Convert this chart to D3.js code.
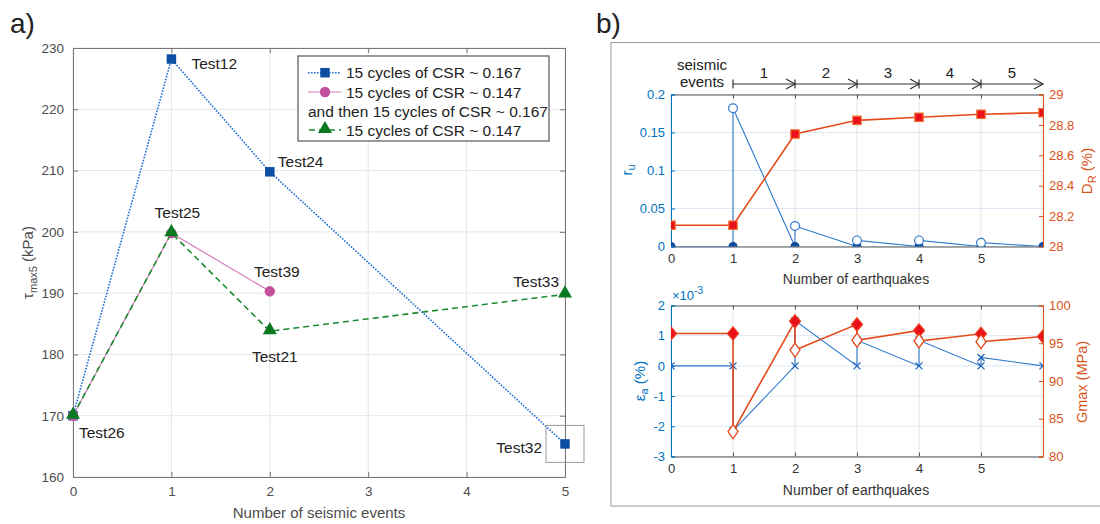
<!DOCTYPE html>
<html>
<head>
<meta charset="utf-8">
<script src="https://cdn.jsdelivr.net/npm/d3@7"></script>
<style>
  body { margin: 0; background: #fff; }
  svg { font-family: "Liberation Sans", Arial, sans-serif; }
</style>
</head>
<body>
<div id="chart"></div>
<script>
/* ---------- data: panel a ---------- */
var eventsA = [0, 1, 2, 5];
var tau167 = [170, 228.2, 209.8, 165.4];
var eventsB = [0, 1, 2];
var tau147then167 = [170, 199.8, 190.3];
var eventsC = [0, 1, 2, 5];
var tau147 = [170, 199.8, 183.8, 189.8];
var xTicksA = [0, 1, 2, 3, 4, 5];
var yTicksA = [160, 170, 180, 190, 200, 210, 220, 230];
var legendA = ["15 cycles of CSR ~ 0.167", "15 cycles of CSR ~ 0.147",
               "and then 15 cycles of CSR ~ 0.167", "15 cycles of CSR ~ 0.147"];
// test names with the point they sit on
var testNames = ["Test12", "Test24", "Test25", "Test39", "Test21", "Test26", "Test33", "Test32"];
var testEvent = [1, 2, 1, 2, 2, 0, 5, 5];
var testTau   = [228.2, 209.8, 199.8, 190.3, 183.8, 170, 189.8, 165.4];

/* ---------- data: panel b ---------- */
var quakeX = [0, 1, 1, 2, 2, 3, 3, 4, 4, 5, 5, 6];
var ru     = [0, 0, 0.182, 0, 0.027, 0, 0.008, 0, 0.008, 0, 0.005, 0];
var ruPeak = [false, false, true, false, true, false, true, false, true, false, true, false];
var drX = [0, 1, 2, 3, 4, 5, 6];
var dr  = [28.14, 28.14, 28.74, 28.83, 28.85, 28.87, 28.88];
var ea   = [0, 0, -2.15e-3, 0, 1.5e-3, 0, 0.85e-3, 0, 0.85e-3, 0, 0.28e-3, 0];
var gmax = [96.3, 96.3, 83.3, 97.9, 94.1, 97.5, 95.4, 96.7, 95.3, 96.25, 95.2, 95.9];
var gmaxAfter = [false, false, true, false, true, false, true, false, true, false, true, false];
var seismicEvents = [1, 2, 3, 4, 5];
var xTicksB = [0, 1, 2, 3, 4, 5, 6];
var xTickLabelsB = ["0", "1", "2", "3", "4", "5", ""];
var ruTicks = [0, 0.05, 0.1, 0.15, 0.2];
var drTicks = [28, 28.2, 28.4, 28.6, 28.8, 29];
var eaTicks = [-3e-3, -2e-3, -1e-3, 0, 1e-3, 2e-3];
var gmaxTicks = [80, 85, 90, 95, 100];

var svg = d3.select("#chart").append("svg")
  .attr("width", 1100).attr("height", 524);

var BLUE = "#0072bd", ORANGE = "#d95319";

/* ========== panel a ========== */
var A = { l: 73, r: 565, t: 48, b: 477 };
var xa = d3.scaleLinear().domain([0, 5]).range([A.l, A.r]);
var ya = d3.scaleLinear().domain([160, 230]).range([A.b, A.t]);

svg.append("text").attr("x", 10).attr("y", 33).attr("font-size", 28).attr("fill", "#222").text("a)");

var ga = svg.append("g");
// grid
ga.selectAll(".gx").data(xTicksA).enter().append("line")
  .attr("x1", d => xa(d)).attr("x2", d => xa(d)).attr("y1", A.t).attr("y2", A.b)
  .attr("stroke", "#e6e6e6");
ga.selectAll(".gy").data(yTicksA).enter().append("line")
  .attr("x1", A.l).attr("x2", A.r).attr("y1", d => ya(d)).attr("y2", d => ya(d))
  .attr("stroke", "#e6e6e6");

// axes (MATLAB style: ticks inside, box on)
var axA = ga.append("g").attr("color", "#777");
axA.append("g").attr("transform", `translate(0,${A.b})`)
  .call(d3.axisBottom(xa).tickValues(xTicksA).tickSize(-5).tickPadding(9).tickFormat(d3.format("d")));
axA.append("g").attr("transform", `translate(0,${A.t})`)
  .call(d3.axisTop(xa).tickValues(xTicksA).tickSize(-5).tickFormat(""));
axA.append("g").attr("transform", `translate(${A.l},0)`)
  .call(d3.axisLeft(ya).tickValues(yTicksA).tickSize(-5).tickPadding(9));
axA.append("g").attr("transform", `translate(${A.r},0)`)
  .call(d3.axisRight(ya).tickValues(yTicksA).tickSize(-5).tickFormat(""));
axA.selectAll(".domain").attr("stroke", "#777");
axA.selectAll("text").attr("font-size", 13.5).attr("fill", "#4d4d4d")
  .attr("font-family", "Liberation Sans, Arial, sans-serif");

ga.append("text").attr("x", (A.l + A.r) / 2).attr("y", 518).attr("text-anchor", "middle")
  .attr("font-size", 15).attr("fill", "#4d4d4d").text("Number of seismic events");
var yl = ga.append("text").attr("transform", `translate(33,${(A.t + A.b) / 2}) rotate(-90)`)
  .attr("text-anchor", "middle").attr("font-size", 15).attr("fill", "#4d4d4d");
yl.append("tspan").text("τ");
yl.append("tspan").attr("font-size", 11).attr("dy", 4).text("max5");
yl.append("tspan").attr("dy", -4).text(" (kPa)");

function seriesA(xs, ys) { return xs.map((x, i) => [x, ys[i]]); }
var lineA = d3.line().x(d => xa(d[0])).y(d => ya(d[1]));

var s1 = seriesA(eventsA, tau167), s2 = seriesA(eventsB, tau147then167), s3 = seriesA(eventsC, tau147);
var C1 = "#1f6fd6", C1m = "#0b4ea2", C2 = "#d47ab8", C2m = "#c2509c", C3 = "#1b8a2e", C3m = "#0a7a22";

ga.append("path").attr("d", lineA(s1)).attr("fill", "none").attr("stroke", C1)
  .attr("stroke-width", 1.6).attr("stroke-dasharray", "1.6,1.4");
ga.append("path").attr("d", lineA(s2)).attr("fill", "none").attr("stroke", C2).attr("stroke-width", 1.2);
ga.append("path").attr("d", lineA(s3)).attr("fill", "none").attr("stroke", C3)
  .attr("stroke-width", 1.6).attr("stroke-dasharray", "6,4");

var sq = d3.symbol().type(d3.symbolSquare).size(90);
var ci = d3.symbol().type(d3.symbolCircle).size(85);
var tri = d3.symbol().type(d3.symbolTriangle).size(85);

ga.selectAll(".m1").data(s1).enter().append("path").attr("d", sq)
  .attr("transform", d => `translate(${xa(d[0])},${ya(d[1])})`).attr("fill", C1m);
ga.selectAll(".m2").data(s2).enter().append("path").attr("d", ci)
  .attr("transform", d => `translate(${xa(d[0])},${ya(d[1])})`).attr("fill", C2m);
ga.selectAll(".m3").data(s3).enter().append("path").attr("d", tri)
  .attr("transform", d => `translate(${xa(d[0])},${ya(d[1]) - 1})`).attr("fill", C3m);

// test labels (offsets from their points)
var labOff = {
  Test12: [20, 10, "start"], Test24: [8, -5, "start"], Test25: [6, -15, "middle"],
  Test39: [7, -14, "middle"], Test21: [5, 31, "middle"], Test26: [6, 22, "start"],
  Test33: [-6, -7, "end"], Test32: [-23, 9, "end"]
};
testNames.forEach(function(n, i) {
  var o = labOff[n];
  ga.append("text").attr("x", xa(testEvent[i]) + o[0]).attr("y", ya(testTau[i]) + o[1])
    .attr("text-anchor", o[2]).attr("font-size", 15.5).attr("fill", "#222").text(n);
});
// small highlight box round Test32
ga.append("rect").attr("x", xa(5) - 19).attr("y", ya(165.4) - 18.5).attr("width", 38).attr("height", 37)
  .attr("fill", "none").attr("stroke", "#999").attr("stroke-width", 1);

// legend
var lg = ga.append("g");
lg.append("rect").attr("x", 298).attr("y", 56).attr("width", 251).attr("height", 85)
  .attr("fill", "#fff").attr("stroke", "#555").attr("stroke-width", 1.2);
var rows = [72.7, 92, 111, 130];
lg.append("line").attr("x1", 308).attr("x2", 341).attr("y1", rows[0]).attr("y2", rows[0])
  .attr("stroke", C1).attr("stroke-width", 1.6).attr("stroke-dasharray", "1.6,1.4");
lg.append("path").attr("d", sq).attr("transform", `translate(325,${rows[0]})`).attr("fill", C1m);
lg.append("line").attr("x1", 308).attr("x2", 341).attr("y1", rows[1]).attr("y2", rows[1])
  .attr("stroke", C2).attr("stroke-width", 1.2);
lg.append("path").attr("d", ci).attr("transform", `translate(325,${rows[1]})`).attr("fill", C2m);
lg.append("line").attr("x1", 308).attr("x2", 341).attr("y1", rows[3]).attr("y2", rows[3])
  .attr("stroke", C3).attr("stroke-width", 1.6).attr("stroke-dasharray", "6,4").attr("stroke-dashoffset", -1);
lg.append("path").attr("d", tri).attr("transform", `translate(325,${rows[3] - 1})`).attr("fill", C3m);
[[346, 0], [346, 1], [308, 2], [346, 3]].forEach(function(p) {
  lg.append("text").attr("x", p[0]).attr("y", rows[p[1]] + 5.5).attr("font-size", 15.5)
    .attr("fill", "#222").text(legendA[p[1]]);
});

/* ========== panel b ========== */
svg.append("text").attr("x", 596).attr("y", 33).attr("font-size", 28).attr("fill", "#222").text("b)");
svg.append("rect").attr("x", 611).attr("y", 42.5).attr("width", 500).attr("height", 463.5)
  .attr("fill", "none").attr("stroke", "#999");

var xb = d3.scaleLinear().domain([0, 6]).range([671, 1043]);

function panelB(box, yL, yR, lTicks, rTicks, lFmt, rFmt, id) {
  var g = svg.append("g");
  g.append("clipPath").attr("id", id).append("rect")
    .attr("x", box.l).attr("y", box.t).attr("width", box.r - box.l).attr("height", box.b - box.t);
  g.selectAll(".gx").data(xTicksB).enter().append("line")
    .attr("x1", d => xb(d)).attr("x2", d => xb(d)).attr("y1", box.t).attr("y2", box.b)
    .attr("stroke", "#e4e4e4");
  g.selectAll(".gy").data(lTicks).enter().append("line")
    .attr("x1", box.l).attr("x2", box.r).attr("y1", d => yL(d)).attr("y2", d => yL(d))
    .attr("stroke", "#dce8f6");
  var ax = g.append("g");
  var bx = ax.append("g").attr("transform", `translate(0,${box.b})`).attr("color", "#555")
    .call(d3.axisBottom(xb).tickValues(xTicksB).tickSize(-4).tickPadding(7).tickFormat((d, i) => xTickLabelsB[i]));
  ax.append("g").attr("transform", `translate(0,${box.t})`).attr("color", "#555")
    .call(d3.axisTop(xb).tickValues(xTicksB).tickSize(-4).tickFormat(""));
  ax.append("g").attr("transform", `translate(${box.l},0)`).attr("color", BLUE)
    .call(d3.axisLeft(yL).tickValues(lTicks).tickSize(-4).tickPadding(6).tickFormat(lFmt));
  ax.append("g").attr("transform", `translate(${box.r},0)`).attr("color", ORANGE)
    .call(d3.axisRight(yR).tickValues(rTicks).tickSize(-4).tickPadding(6).tickFormat(rFmt));
  ax.selectAll("text").attr("font-size", 13).attr("font-family", "Liberation Sans, Arial, sans-serif");
  bx.selectAll("text").attr("fill", "#333");
  var plot = g.append("g").attr("clip-path", `url(#${id})`);
  return plot;
}

/* top subplot: r_u and D_R */
var T = { l: 671, r: 1043, t: 94.5, b: 246.5 };
var yru = d3.scaleLinear().domain([0, 0.2]).range([T.b, T.t]);
var ydr = d3.scaleLinear().domain([28, 29]).range([T.b, T.t]);
var pt = panelB(T, yru, ydr, ruTicks, drTicks, d3.format(""), d3.format(""), "clipTop");

var ruPts = quakeX.map((x, i) => [x, ru[i], ruPeak[i]]);
var drPts = drX.map((x, i) => [x, dr[i]]);
pt.append("path").attr("d", d3.line().x(d => xb(d[0])).y(d => yru(d[1]))(ruPts))
  .attr("fill", "none").attr("stroke", "#2f7ad0").attr("stroke-width", 1.1);
pt.append("path").attr("d", d3.line().x(d => xb(d[0])).y(d => ydr(d[1]))(drPts))
  .attr("fill", "none").attr("stroke", "#e4491a").attr("stroke-width", 1.6);
pt.selectAll(".ruc").data(ruPts).enter().append("circle")
  .attr("cx", d => xb(d[0])).attr("cy", d => yru(d[1])).attr("r", d => d[2] ? 4.4 : 4)
  .attr("fill", d => d[2] ? "#fff" : "#104c9c").attr("stroke", d => d[2] ? "#2f7ad0" : "#104c9c")
  .attr("stroke-width", 1.2);
pt.selectAll(".drs").data(drPts).enter().append("rect")
  .attr("x", d => xb(d[0]) - 4.2).attr("y", d => ydr(d[1]) - 4.2).attr("width", 8.4).attr("height", 8.4)
  .attr("fill", "#e8101a").attr("stroke", "#f07030").attr("stroke-width", 1.2);

svg.append("text").attr("x", 856).attr("y", 284).attr("text-anchor", "middle")
  .attr("font-size", 14).attr("fill", "#333").text("Number of earthquakes");
var ruL = svg.append("text").attr("transform", `translate(632,170) rotate(-90)`)
  .attr("text-anchor", "middle").attr("font-size", 15).attr("fill", BLUE);
ruL.append("tspan").text("r");
ruL.append("tspan").attr("font-size", 11).attr("dy", 3).text("u");
var drL = svg.append("text").attr("transform", `translate(1092,171) rotate(-90)`)
  .attr("text-anchor", "middle").attr("font-size", 15).attr("fill", ORANGE);
drL.append("tspan").text("D");
drL.append("tspan").attr("font-size", 11).attr("dy", 4).text("R");
drL.append("tspan").attr("dy", -4).text(" (%)");

// seismic events arrows above the top subplot
var arrowY = 84;
var ag = svg.append("g").attr("stroke", "#333").attr("stroke-width", 1.2).attr("fill", "none");
seismicEvents.forEach(function(k) {
  var x0 = xb(k), x1 = xb(k + 1);
  ag.append("line").attr("x1", x0).attr("x2", x0).attr("y1", arrowY - 4.5).attr("y2", arrowY + 4.5);
  ag.append("line").attr("x1", x0).attr("x2", x1).attr("y1", arrowY).attr("y2", arrowY);
  ag.append("path").attr("d", `M${x1 - 9},${arrowY - 5}L${x1},${arrowY}L${x1 - 9},${arrowY + 5}`);
  svg.append("text").attr("x", (x0 + x1) / 2).attr("y", 77.5).attr("text-anchor", "middle")
    .attr("font-size", 15).attr("fill", "#222").text(k);
});
svg.append("text").attr("x", 702).attr("y", 70).attr("text-anchor", "middle")
  .attr("font-size", 15).attr("fill", "#222").text("seismic");
svg.append("text").attr("x", 702).attr("y", 87).attr("text-anchor", "middle")
  .attr("font-size", 15).attr("fill", "#222").text("events");

/* bottom subplot: eps_a and Gmax */
var Bt = { l: 671, r: 1043, t: 305.5, b: 456.5 };
var yea = d3.scaleLinear().domain([-3e-3, 2e-3]).range([Bt.b, Bt.t]);
var ygm = d3.scaleLinear().domain([80, 100]).range([Bt.b, Bt.t]);
var pb = panelB(Bt, yea, ygm, eaTicks, gmaxTicks, d => Math.round(d * 1000), d3.format(""), "clipBot");

var eaPts = quakeX.map((x, i) => [x, ea[i]]);
var gmPts = quakeX.map((x, i) => [x, gmax[i], gmaxAfter[i]]);
pb.append("path").attr("d", d3.line().x(d => xb(d[0])).y(d => yea(d[1]))(eaPts))
  .attr("fill", "none").attr("stroke", "#2f7ad0").attr("stroke-width", 1.1);
pb.selectAll(".eax").data(eaPts).enter().append("path")
  .attr("d", "M-3.5,-3.5L3.5,3.5M-3.5,3.5L3.5,-3.5")
  .attr("transform", d => `translate(${xb(d[0])},${yea(d[1])})`)
  .attr("stroke", "#1f64b8").attr("stroke-width", 1.3).attr("fill", "none");
pb.append("path").attr("d", d3.line().x(d => xb(d[0])).y(d => ygm(d[1]))(gmPts))
  .attr("fill", "none").attr("stroke", "#e4491a").attr("stroke-width", 1.6);
pb.selectAll(".gmd").data(gmPts).enter().append("path")
  .attr("d", d => d[2] ? "M0,-7L5,0L0,7L-5,0Z" : "M0,-6.5L5.5,0L0,6.5L-5.5,0Z")
  .attr("transform", d => `translate(${xb(d[0])},${ygm(d[1])})`)
  .attr("fill", d => d[2] ? "#fff" : "#e8101a").attr("stroke", d => d[2] ? "#e4491a" : "#f03a20")
  .attr("stroke-width", 1.3);

var ex = svg.append("text").attr("x", 672).attr("y", 300).attr("font-size", 13).attr("fill", BLUE);
ex.append("tspan").text("×10");
ex.append("tspan").attr("font-size", 10).attr("dy", -6).text("-3");

svg.append("text").attr("x", 856).attr("y", 495).attr("text-anchor", "middle")
  .attr("font-size", 14).attr("fill", "#333").text("Number of earthquakes");
var eaL = svg.append("text").attr("transform", `translate(645,381) rotate(-90)`)
  .attr("text-anchor", "middle").attr("font-size", 15).attr("fill", BLUE);
eaL.append("tspan").text("ε");
eaL.append("tspan").attr("font-size", 11).attr("dy", 3).text("a");
eaL.append("tspan").attr("dy", -3).text(" (%)");
svg.append("text").attr("transform", `translate(1087,382) rotate(-90)`)
  .attr("text-anchor", "middle").attr("font-size", 14.5).attr("fill", ORANGE).text("Gmax (MPa)");
</script>
</body>
</html>
